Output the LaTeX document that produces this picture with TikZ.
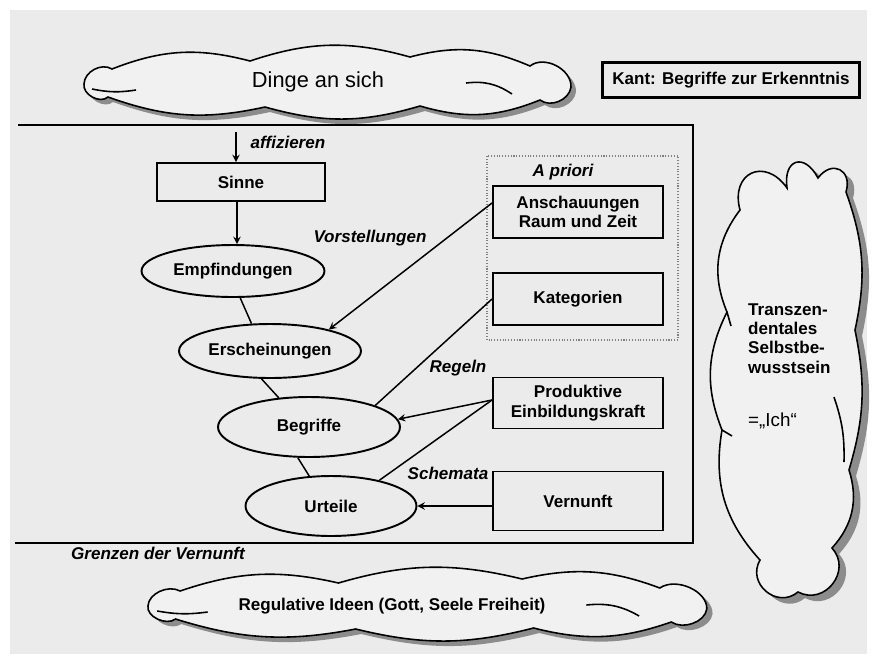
\documentclass[tikz,border=0pt]{standalone}
\usepackage{fontspec}
\setmainfont{Liberation Sans}
\usetikzlibrary{shapes.geometric}

\definecolor{bgcol}{RGB}{235,235,235}
\definecolor{cloudcol}{RGB}{241,241,241}
\newcommand{\bfont}{\fontsize{9.7}{11}\selectfont\bfseries}
\newcommand{\ifont}{\fontsize{9.7}{11}\selectfont\bfseries\itshape}

% cloud outlines (pixel grid)
\newcommand{\wolkeH}{(84,84) to[bend left=60] (112,69) to[bend left=18] (250,61) to[bend left=17] (410,57)
  to[bend left=19] (530,66) to[bend left=65] (571,87) to[bend left=60] (540,100) to[bend left=19] (420,106)
  to[bend left=16] (265,107) to[bend left=16] (108,97) to[bend left=70] (84,84) -- cycle}
\newcommand{\wolkeV}{(727,312) to[bend left=30] (740,210) to[bend left=80, looseness=1.9] (787,188)
  to[bend left=80, looseness=2.3] (818,178) to[bend left=80, looseness=1.9] (846,192) to[bend left=16] (855,330)
  to[bend left=14] (849,470) to[bend left=30] (832,548) to[bend left=80, looseness=1.4] (798,592)
  to[bend left=80, looseness=1.4] (760,560) to[bend left=26] (722,430) to[bend left=24] (727,312) -- cycle}

\tikzset{
  box/.style={draw, line width=1.1pt, rectangle, align=center, font=\bfont, inner sep=0pt, minimum width=3.4cm},
  ell/.style={draw, line width=1.1pt, ellipse, align=center, font=\bfont, inner sep=0pt},
  lbl/.style={font=\ifont, inner sep=0pt},
  wolke/.style={draw, line width=0.9pt, fill=cloudcol},
  schatten/.style={fill=gray!90},
  pfeil/.style={line width=0.85pt, -stealth},
  linie/.style={line width=0.85pt},
  rahmen/.style={line width=1.6pt}
}

\begin{document}
\begin{tikzpicture}[x=0.02cm, y=-0.02cm]
\useasboundingbox (0,0) rectangle (877,664);
\fill[bgcol] (10,10) rectangle (867,654);

% clouds
\fill[schatten, shift={(5,5)}] \wolkeH;
\filldraw[wolke] \wolkeH;
\draw[line width=0.9pt] (92,89) to[bend right=10] (136,90);
\draw[line width=0.9pt] (466,83) to[bend left=20] (512,94);
\node[font=\fontsize{12.4}{14}\selectfont] (dinge) at (318,82) {Dinge an sich};

\begin{scope}[shift={(51.6,522)}, xscale=1.1475]
  \fill[schatten, shift={(5,5)}] \wolkeH;
  \filldraw[wolke] \wolkeH;
  \draw[line width=0.9pt] (92,89) to[bend right=10] (136,90);
  \draw[line width=0.9pt] (466,83) to[bend left=20] (512,94);
\end{scope}
\node[font=\bfont] (ideen) at (392,606) {Regulative Ideen (Gott, Seele Freiheit)};

\fill[schatten, shift={(7,6)}] \wolkeV;
\filldraw[wolke] \wolkeV;
\draw[line width=0.9pt] (834,397) to[bend left=10] (844,462);
\draw[line width=0.9pt] (727,312) -- (731,326);
\draw[line width=0.9pt] (722,430) -- (732,436);
\node[font=\bfont, align=left, anchor=west] (ich) at (742,366)
  {Transzen-\\dentales\\Selbstbe-\\wusstsein\\[19pt]{\fontsize{10.7}{12}\selectfont\mdseries =„Ich“}};

\node[draw, line width=1.5pt, font=\bfont, minimum width=5.14cm, minimum height=0.7cm, inner sep=0pt] (kant) at (731,80) {Kant: Begriffe zur Erkenntnis};

% frame
\draw[rahmen] (18,125) -- (693,125) -- (693,543) -- (15,543);

% a priori
\draw[gray, densely dotted, line width=0.6pt] (487,156) rectangle (678,340);
\node[lbl] (apriori) at (563,172) {A priori};
\node[box, minimum height=1.04cm] (ansch) at (578,212) {Anschauungen\\Raum und Zeit};
\node[box, minimum height=1.04cm] (kat) at (578,299) {Kategorien};
\node[box, minimum height=1.02cm] (prod) at (578,403) {Produktive\\Einbildungskraft};
\node[box, minimum height=1.18cm] (vern) at (578,501) {Vernunft};

% left column
\node[box, minimum width=3.36cm, minimum height=0.76cm] (sinne) at (241,182) {Sinne};
\node[ell, minimum width=3.66cm, minimum height=1.04cm] (empf) at (233,271) {Empfindungen};
\node[ell, minimum width=3.64cm, minimum height=1.08cm] (ersch) at (270,351) {Erscheinungen};
\node[ell, minimum width=3.64cm, minimum height=1.2cm] (begr) at (309,427) {Begriffe};
\node[ell, minimum width=3.42cm, minimum height=1.2cm] (urt) at (331,506) {Urteile};

% labels
\coordinate (aff) at (236,132);
\node[lbl] (affl) at (288,142) {affizieren};
\node[lbl] (vorst) at (370,238) {Vorstellungen};
\node[lbl] (regeln) at (458,368) {Regeln};
\node[lbl] (schem) at (448,473) {Schemata};
\node[lbl] (grenz) at (158,553) {Grenzen der Vernunft};

% connectors
\draw[pfeil] (aff) -- (aff |- sinne.north);
\draw[pfeil] (sinne.south -| 237,0) -- (empf.north -| 237,0);
\draw[linie] (empf.285) -- (ersch.124);
\draw[linie] (ersch.253) -- (begr.136);
\draw[linie] (begr.250) -- (urt.126);
\draw[pfeil] (ansch.174) -- (ersch.20);
\draw[linie] (kat.west) -- (begr.18);
\draw[pfeil] (prod.178) -- (begr.5);
\draw[linie] (prod.178) -- (urt.28);
\draw[pfeil] (vern.west |- urt.east) -- (urt.east);
\end{tikzpicture}
\end{document}
